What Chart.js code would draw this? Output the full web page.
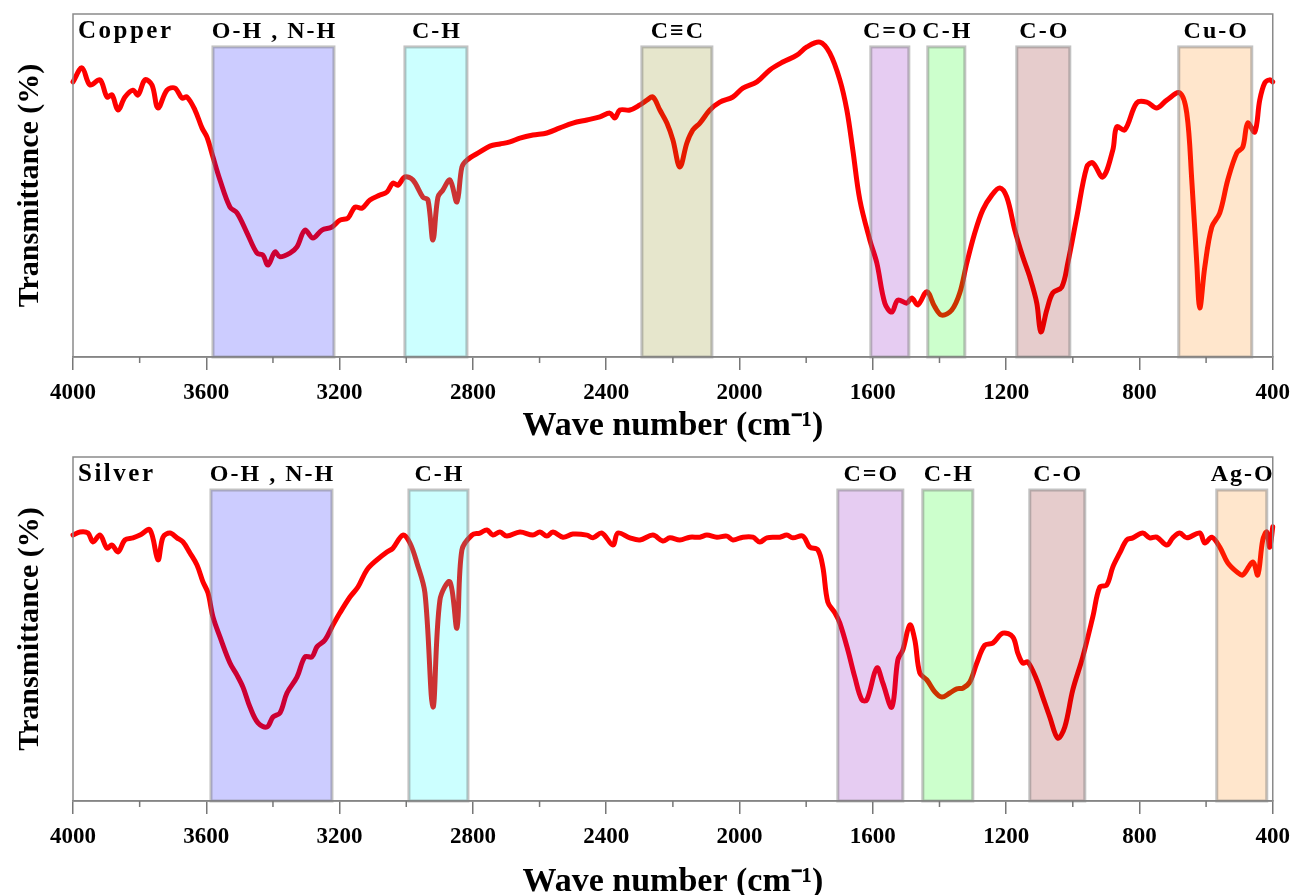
<!DOCTYPE html>
<html>
<head>
<meta charset="utf-8">
<script src="https://cdn.jsdelivr.net/npm/chart.js@4"></script>
<style>
  html, body { margin: 0; padding: 0; background: #fff; overflow: hidden; }
  .wrap { position: absolute; left: 0; width: 1299px; }
</style>
</head>
<body>
<div class="wrap" style="top:0;height:447px"><canvas id="copper-chart"></canvas></div>
<div class="wrap" style="top:445px;height:458px"><canvas id="silver-chart"></canvas></div>
<script>
// FTIR spectra (wavenumber in cm-1, transmittance in arbitrary %)
const copperWave = [4000, 3973, 3949, 3919, 3898, 3883, 3865, 3844, 3820, 3805, 3784, 3763, 3745, 3718, 3694, 3673, 3658, 3634, 3613, 3598,
  3580, 3559, 3529, 3508, 3478, 3448, 3430, 3415, 3394, 3379, 3349, 3328, 3304, 3280, 3253, 3223, 3199, 3175, 3154, 3133,
  3109, 3079, 3058, 3040, 3025, 3004, 2980, 2950, 2935, 2920, 2905, 2890, 2869, 2848, 2833, 2818, 2779, 2749, 2719, 2689,
  2659, 2620, 2578, 2539, 2500, 2458, 2419, 2389, 2374, 2359, 2329, 2299, 2278, 2260, 2239, 2218, 2200, 2179, 2158, 2140,
  2119, 2089, 2059, 2020, 1990, 1948, 1909, 1870, 1828, 1798, 1759, 1729, 1699, 1678, 1660, 1639, 1609, 1588, 1564, 1543,
  1525, 1498, 1483, 1465, 1438, 1414, 1393, 1363, 1339, 1318, 1294, 1270, 1243, 1219, 1198, 1174, 1150, 1129, 1108, 1096,
  1078, 1060, 1033, 1015, 988, 958, 940, 910, 880, 868, 844, 808, 778, 748, 718, 679, 658, 643, 628, 619,
  604, 583, 559, 535, 508, 490, 475, 454, 439, 424, 409, 400];
const copperT = [80.2, 84.3, 79.3, 80.8, 75.8, 76.4, 72.0, 75.8, 77.8, 76.4, 80.8, 79.3, 72.6, 77.8, 78.4, 75.5, 75.8, 72.0, 66.8, 64.1,
  58.3, 51.6, 43.7, 42.0, 36.2, 30.3, 29.7, 26.8, 30.6, 29.2, 30.3, 32.1, 37.0, 34.7, 37.0, 37.9, 39.9, 40.5, 43.7, 43.4,
  45.8, 47.2, 48.1, 50.7, 50.1, 52.5, 51.6, 46.6, 45.8, 34.1, 46.6, 48.7, 51.6, 45.2, 55.4, 57.4, 59.8, 61.5, 62.1, 62.7,
  63.8, 64.7, 65.3, 66.8, 68.2, 69.1, 70.0, 71.1, 69.7, 72.0, 72.0, 73.5, 74.9, 75.8, 72.0, 68.2, 63.3, 55.4, 62.4, 66.2,
  68.2, 72.0, 74.3, 75.8, 78.4, 80.2, 83.7, 86.0, 88.0, 90.4, 91.8, 88.6, 80.8, 72.0, 60.3, 45.8, 34.1, 27.4, 15.7, 13.1,
  16.6, 15.7, 17.2, 15.2, 19.0, 14.6, 12.2, 13.7, 18.7, 27.4, 36.2, 42.9, 47.2, 49.3, 46.6, 37.0, 29.2, 23.3, 15.7, 7.3,
  13.7, 18.7, 20.4, 27.4, 40.8, 55.4, 56.6, 52.5, 60.3, 67.1, 66.2, 74.1, 74.3, 72.6, 74.9, 77.0, 71.1, 51.6, 27.4, 14.3,
  26.2, 37.9, 42.0, 51.6, 59.5, 61.2, 68.2, 65.6, 74.9, 79.9, 80.8, 80.2];

const silverWave = [4000, 3979, 3955, 3940, 3919, 3898, 3883, 3865, 3844, 3820, 3799, 3769, 3745, 3730, 3709, 3688, 3670, 3649, 3628, 3610,
  3595, 3580, 3559, 3529, 3508, 3490, 3469, 3445, 3418, 3400, 3379, 3358, 3328, 3304, 3283, 3268, 3244, 3223, 3199, 3169,
  3145, 3118, 3088, 3058, 3040, 3010, 2989, 2968, 2944, 2920, 2899, 2869, 2848, 2833, 2803, 2779, 2758, 2740, 2719, 2698,
  2659, 2620, 2599, 2578, 2560, 2530, 2500, 2458, 2440, 2413, 2380, 2365, 2329, 2299, 2260, 2230, 2209, 2179, 2149, 2119,
  2098, 2068, 2038, 2020, 1990, 1960, 1939, 1918, 1879, 1858, 1840, 1810, 1789, 1765, 1750, 1735, 1714, 1699, 1675, 1654,
  1633, 1618, 1588, 1570, 1543, 1525, 1510, 1489, 1474, 1459, 1438, 1414, 1393, 1369, 1348, 1330, 1309, 1288, 1264, 1240,
  1210, 1180, 1165, 1150, 1135, 1108, 1090, 1069, 1045, 1024, 1000, 970, 940, 919, 898, 880, 859, 838, 820, 790,
  769, 748, 718, 700, 679, 658, 619, 604, 583, 559, 535, 508, 490, 460, 445, 430, 418, 409, 400];
const silverT = [77.3, 78.2, 77.9, 75.3, 77.3, 73.5, 74.4, 72.4, 75.9, 76.5, 77.3, 78.8, 70.1, 76.7, 77.9, 76.5, 75.3, 72.1, 68.6, 63.7,
  60.5, 53.5, 47.7, 40.1, 36.6, 33.1, 27.3, 22.7, 21.5, 24.4, 25.6, 31.4, 36.0, 41.9, 41.9, 44.8, 46.8, 50.6, 54.7, 59.3,
  62.2, 67.2, 70.1, 72.4, 73.5, 77.3, 75.0, 69.2, 60.5, 27.3, 58.4, 63.7, 50.3, 73.0, 77.3, 77.9, 78.8, 77.3, 78.2, 77.0,
  78.2, 77.3, 78.2, 77.0, 78.2, 76.7, 77.6, 77.3, 76.5, 77.9, 74.4, 77.9, 76.5, 75.9, 77.3, 75.6, 76.5, 75.9, 76.7, 76.7,
  77.3, 76.7, 77.0, 75.9, 76.7, 76.7, 75.3, 76.5, 76.7, 77.3, 76.5, 77.0, 73.8, 73.0, 68.0, 57.8, 54.7, 51.7, 43.9, 36.0,
  29.4, 29.4, 38.7, 34.3, 27.3, 41.0, 43.9, 51.2, 46.8, 37.2, 35.2, 31.7, 30.2, 31.4, 32.6, 32.8, 34.6, 40.1, 45.3, 45.9,
  48.8, 47.7, 43.0, 40.1, 40.4, 35.2, 30.2, 24.4, 18.3, 21.5, 32.3, 41.9, 53.5, 62.2, 62.8, 68.0, 72.1, 75.9, 76.5, 77.9,
  76.5, 76.7, 74.4, 76.5, 77.9, 76.5, 77.9, 75.0, 76.7, 73.8, 69.2, 66.6, 65.7, 69.5, 65.7, 75.9, 78.2, 73.8, 79.7];

// highlighted absorption regions
const copperBandFrom = [3580, 3004, 2293, 1606, 1435, 1168, 682];
const copperBandTo = [3217, 2818, 2083, 1492, 1324, 1009, 463];
const copperBandLabels = ['O-H , N-H', 'C-H', 'C\u2261C', 'C=O', 'C-H', 'C-O', 'Cu-O'];

const silverBandFrom = [3586, 2992, 1705, 1450, 1129, 568];
const silverBandTo = [3223, 2815, 1510, 1300, 964, 418];
const silverBandLabels = ['O-H , N-H', 'C-H', 'C=O', 'C-H', 'C-O', 'Ag-O'];

const xTicks = [4000, 3600, 3200, 2800, 2400, 2000, 1600, 1200, 800, 400];
const bandTop = 90.4;

const SERIF = '"Liberation Serif", "Times New Roman", serif';
const bandColorMap = {
    'O-H , N-H': 'rgba(0,0,255,0.2)',
    'C-H': 'rgba(0,255,255,0.2)',
    'C\u2261C': 'rgba(128,128,0,0.2)',
    'C=O': 'rgba(128,0,192,0.2)',
    'C-H2': 'rgba(0,255,0,0.2)',
    'C-O': 'rgba(128,0,0,0.2)',
    'Cu-O': 'rgba(255,128,0,0.2)',
    'Ag-O': 'rgba(255,128,0,0.2)'
};

function bandColor(labels, i) {
    // second C-H band (bending) is green
    if (labels[i] === 'C-H' && labels.indexOf('C-H') !== i) return bandColorMap['C-H2'];
    return bandColorMap[labels[i]];
}

// Plugin: transparent bands over the spectrum, their labels, sample name, frame, minor ticks
function makeBandPlugin(name, from, to, labels) {
    return {
        id: 'bandPlugin',
        afterDatasetsDraw(chart) {
            const { ctx, chartArea } = chart;
            const x = chart.scales.x;
            const y = chart.scales.y;
            const yTop = y.getPixelForValue(bandTop);
            ctx.save();
            ctx.letterSpacing = '2px';
            from.forEach((f, i) => {
                const x1 = x.getPixelForValue(f);
                const x2 = x.getPixelForValue(to[i]);
                ctx.fillStyle = bandColor(labels, i);
                ctx.fillRect(x1, yTop, x2 - x1, chartArea.bottom - yTop);
                ctx.strokeStyle = 'rgba(120,120,120,0.45)';
                ctx.lineWidth = 3;
                ctx.strokeRect(x1, yTop, x2 - x1, chartArea.bottom - yTop);
                ctx.fillStyle = '#000';
                ctx.font = 'bold 24px ' + SERIF;
                ctx.textAlign = 'center';
                ctx.textBaseline = 'middle';
                ctx.fillText(labels[i], (x1 + x2) / 2 + 1, yTop - 15);
            });
            // sample name
            ctx.textAlign = 'left';
            ctx.font = 'bold 25px ' + SERIF;
            ctx.letterSpacing = '2.5px';
            ctx.fillText(name, chartArea.left + 5, chartArea.top + 18);
            ctx.letterSpacing = '0px';
            // frame
            ctx.strokeStyle = '#8a8a8a';
            ctx.lineWidth = 1.5;
            ctx.strokeRect(chartArea.left, chartArea.top, chartArea.right - chartArea.left, chartArea.bottom - chartArea.top);
            // minor ticks
            ctx.strokeStyle = '#777';
            for (let w = 3800; w > 400; w -= 400) {
                const px = x.getPixelForValue(w);
                ctx.beginPath();
                ctx.moveTo(px, chartArea.bottom);
                ctx.lineTo(px, chartArea.bottom + 6);
                ctx.stroke();
            }
            ctx.restore();
        }
    };
}

function makeChart(canvasId, name, wave, trans, from, to, labels, padTop, axisHeight) {
    return new Chart(document.getElementById(canvasId), {
        type: 'line',
        data: {
            datasets: [{
                data: wave.map((w, i) => ({ x: w, y: trans[i] })),
                borderColor: '#ff0000',
                borderWidth: 5,
                pointRadius: 0,
                tension: 0.35,
                borderCapStyle: 'round',
                borderJoinStyle: 'round',
                clip: 3
            }]
        },
        options: {
            responsive: true,
            maintainAspectRatio: false,
            animation: false,
            layout: { padding: { top: padTop, right: 26, left: 0, bottom: 0 } },
            scales: {
                x: {
                    type: 'linear',
                    reverse: true,
                    min: 400,
                    max: 4000,
                    afterBuildTicks: (axis) => { axis.ticks = xTicks.map(v => ({ value: v })); },
                    afterFit: (axis) => { axis.height = axisHeight; },
                    grid: { drawOnChartArea: false, tickLength: 13, color: '#777', lineWidth: 1.5 },
                    border: { color: '#777', width: 1.5 },
                    ticks: {
                        color: '#000',
                        padding: 9,
                        maxRotation: 0,
                        callback: (v) => String(v),
                        font: { family: SERIF, size: 23, weight: 'bold', lineHeight: 1.2 }
                    },
                    title: {
                        display: true,
                        text: 'Wave number (cm\u207B\u00B9)',
                        color: '#000',
                        padding: { top: 0, bottom: 0.6 },
                        font: { family: SERIF, size: 34, weight: 'bold', lineHeight: 1.2 }
                    }
                },
                y: {
                    min: 0,
                    max: 100,
                    afterFit: (axis) => { axis.width = 73; },
                    grid: { display: false, drawTicks: false },
                    border: { display: false },
                    ticks: { display: false },
                    title: {
                        display: true,
                        text: 'Transmittance (%)',
                        color: '#000',
                        padding: { top: 12, bottom: 25 },
                        font: { family: SERIF, size: 30, weight: 'bold' }
                    }
                }
            },
            plugins: {
                legend: { display: false },
                tooltip: { enabled: false }
            }
        },
        plugins: [makeBandPlugin(name, from, to, labels)]
    });
}

makeChart('copper-chart', 'Copper', copperWave, copperT, copperBandFrom, copperBandTo, copperBandLabels, 14, 90);
makeChart('silver-chart', 'Silver', silverWave, silverT, silverBandFrom, silverBandTo, silverBandLabels, 12, 102);
</script>
</body>
</html>
